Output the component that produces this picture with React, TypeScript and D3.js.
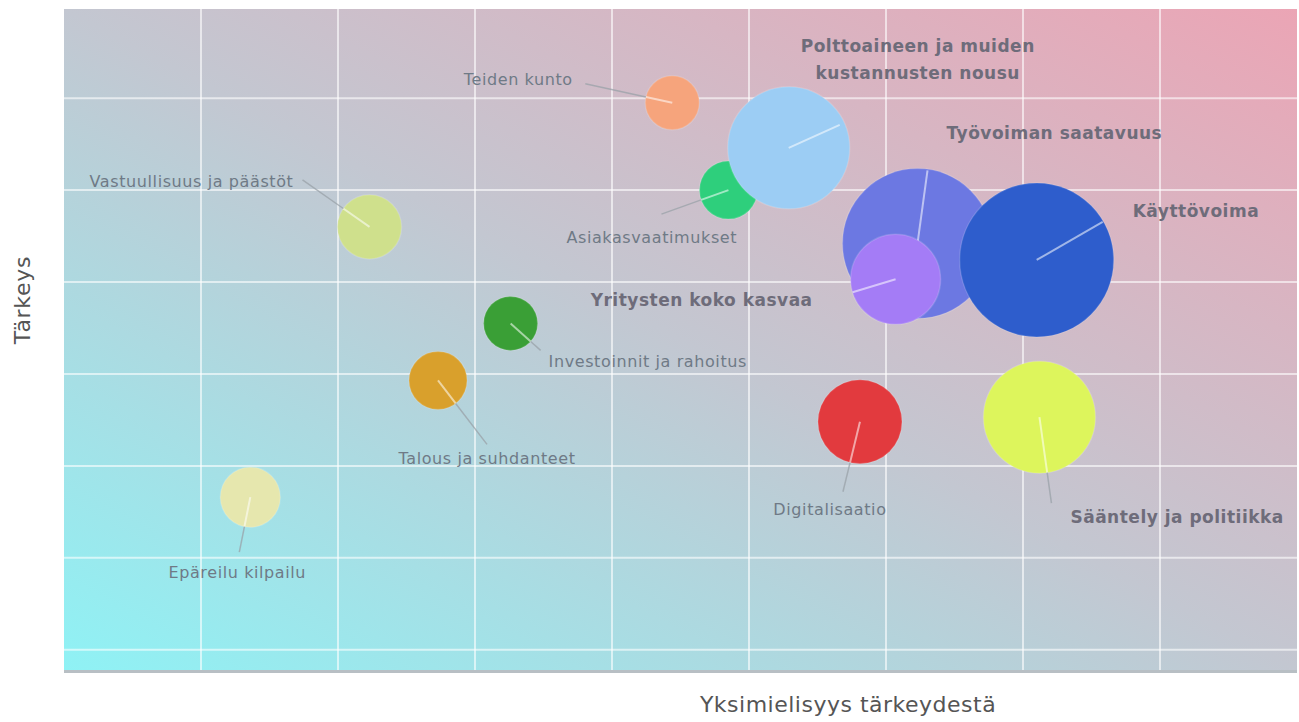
import React from "react";
import * as d3 from "d3";

// ---- data ----
const topics = [
  "Epäreilu kilpailu",
  "Vastuullisuus ja päästöt",
  "Talous ja suhdanteet",
  "Investoinnit ja rahoitus",
  "Teiden kunto",
  "Asiakasvaatimukset",
  "Polttoaineen ja muiden\nkustannusten nousu",
  "Digitalisaatio",
  "Työvoiman saatavuus",
  "Yritysten koko kasvaa",
  "Käyttövoima",
  "Sääntely ja politiikka",
];
// consensus about importance (x)
const consensus = [1.36, 2.23, 2.73, 3.26, 4.44, 4.85, 5.29, 5.81, 6.23, 6.07, 7.1, 7.12];
// importance (y)
const importance = [1.66, 4.6, 2.93, 3.55, 5.95, 5.0, 5.46, 2.48, 4.42, 4.03, 4.24, 2.53];
// bubble weight
const weight = [15.2, 17.3, 14.2, 12.3, 12.3, 14.2, 62.8, 29.8, 94.9, 34.2, 100, 52.9];
const emphasized = [false, false, false, false, false, false, true, false, true, true, true, true];

const xTicks = [1, 2, 3, 4, 5, 6, 7, 8];
const yTicks = [0, 1, 2, 3, 4, 5, 6];
const xTitle = "Yksimielisyys tärkeydestä";
const yTitle = "Tärkeys";

// ---- styles / layout ----
const colors = [
  "#e6e7ae", "#cfe08c", "#d9a02c", "#3a9f36", "#f6a47c", "#2ecf7c",
  "#9ccdf4", "#e23a3e", "#6c78e2", "#a47cf6", "#2e5dcc", "#ddf55c",
];
// label offsets relative to bubble centre (px): [dx, dy, anchor], leader end [lx, ly]
const labelLayout: [number, number, string, number, number][] = [
  [-13, 75, "middle", -11, 55],
  [-76, -45, "end", -67, -47],
  [49, 78, "middle", 49, 64],
  [38, 38, "start", 30, 27],
  [-154, -23, "middle", -87, -19],
  [-162, 47, "start", -67, 24],
  [129, -102, "middle", 51, -23],
  [-30, 88, "middle", -17, 70],
  [29, -110, "start", 10, -73],
  [-83, 21, "end", -43, 13],
  [96, -49, "start", 66, -38],
  [31, 100, "start", 12, 86],
];

const W = 1299;
const H = 722;
const left = 64, right = 1297, top = 9, bottom = 670;

export default function App() {
  const x = d3.scaleLinear().domain([0, 9]).range([left, right]);
  const y = d3.scaleLinear().domain([-0.22, 6.97]).range([bottom, top]);
  const r = d3.scaleSqrt().domain([0, 100]).range([0, 77]);
  const font = "'DejaVu Sans', Verdana, sans-serif";

  const order = topics.map((_, i) => i);

  return (
    <div style={{ position: "absolute", left: 0, top: 0 }}>
      <svg width={W} height={H} style={{ display: "block", background: "#fff" }}>
        <defs>
          <linearGradient id="bg" x1="0" y1="1" x2="1" y2="0">
            <stop offset="0" stopColor="#8ff2f5" />
            <stop offset="0.5" stopColor="#c3c7d1" />
            <stop offset="1" stopColor="#eba5b5" />
          </linearGradient>
        </defs>
        <rect x={left} y={bottom} width={right - left} height={3} fill="#b8bfc4" />
        <rect x={left} y={top} width={right - left} height={bottom - top} fill="url(#bg)" />
        {xTicks.map((t) => (
          <line key={"x" + t} x1={x(t)} x2={x(t)} y1={top} y2={bottom} stroke="#ffffff" strokeOpacity={0.6} strokeWidth={2} />
        ))}
        {yTicks.map((t) => (
          <line key={"y" + t} x1={left} x2={right} y1={y(t)} y2={y(t)} stroke="#ffffff" strokeOpacity={0.6} strokeWidth={2} />
        ))}
        {order.map((i) => {
          const cx = x(consensus[i]);
          const cy = y(importance[i]);
          const rr = r(weight[i]);
          const [, , , lx, ly] = labelLayout[i];
          const len = Math.hypot(lx, ly);
          const ix = cx + (lx / len) * Math.min(rr, len);
          const iy = cy + (ly / len) * Math.min(rr, len);
          return (
            <g key={"b" + i}>
              <circle cx={cx} cy={cy} r={rr} fill={colors[i]} stroke="#ffffff" strokeOpacity={0.15} strokeWidth={1.5} />
              <line x1={cx} y1={cy} x2={ix} y2={iy} stroke="#ffffff" strokeOpacity={0.55} strokeWidth={2} />
              {len > rr && (
                <line x1={ix} y1={iy} x2={cx + lx} y2={cy + ly} stroke="#9aa1a8" strokeOpacity={0.75} strokeWidth={1.5} />
              )}
            </g>
          );
        })}
        {order.map((i) => {
          const cx = x(consensus[i]);
          const cy = y(importance[i]);
          const [dx, dy, anchor] = labelLayout[i];
          const lines = topics[i].split("\n");
          const bold = emphasized[i];
          const lh = 27;
          return (
            <text
              key={"t" + i}
              x={cx + dx}
              y={cy + dy}
              textAnchor={anchor as any}
              fontFamily={font}
              fontSize={bold ? 17 : 16}
              letterSpacing={bold ? 0.5 : 0.6}
              fontWeight={bold ? "bold" : "normal"}
              fill={bold ? "#6e6c7a" : "#6f7a86"}
            >
              {lines.map((s, k) => (
                <tspan key={k} x={cx + dx} dy={k === 0 ? "0.35em" : lh}>
                  {s}
                </tspan>
              ))}
            </text>
          );
        })}
        <text
          transform={`translate(22, 300) rotate(-90)`}
          textAnchor="middle"
          dy="0.35em"
          fontFamily={font}
          fontSize={22}
          letterSpacing={0.7}
          fill="#555"
        >
          {yTitle}
        </text>
        <text x={848} y={704} textAnchor="middle" dy="0.35em" fontFamily={font} fontSize={22} letterSpacing={0.5} fill="#555">
          {xTitle}
        </text>
      </svg>
    </div>
  );
}
